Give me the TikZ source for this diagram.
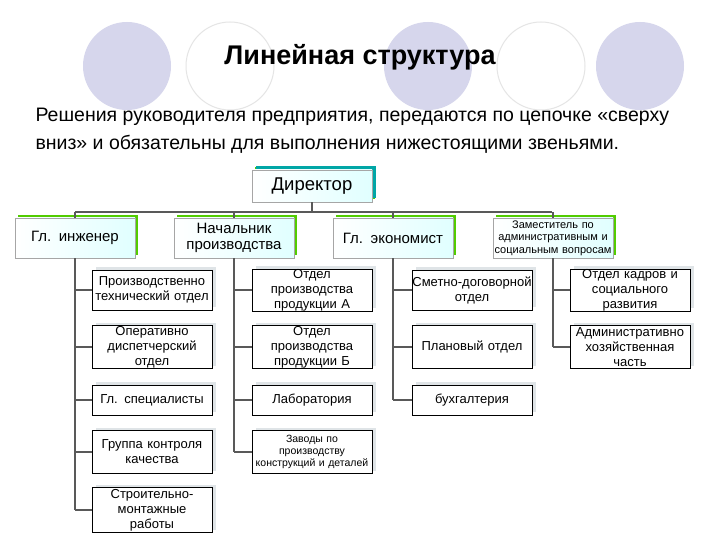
\documentclass[tikz,border=0pt]{standalone}
\usepackage{fontspec}
\setmainfont{Liberation Sans}
\definecolor{lav}{RGB}{214,214,236}
\begin{document}
\begin{tikzpicture}[x=1pt,y=-1pt,
  bus/.style={draw=gray!70!black,line width=1.6pt},
  lvl/.style={draw=gray!70,fill=white,inner sep=0pt,align=center,font=\fontsize{15}{16}\selectfont,minimum height=40pt,text width=120pt,
    path picture={\shade[left color=white,right color=cyan!12] (path picture bounding box.south west) rectangle (path picture bounding box.north east);},
    preaction={fill=green!60!yellow!80!black,transform canvas={xshift=3pt,yshift=3pt}}},
  kid/.style={draw=black,fill=white,inner sep=0pt,align=center,font=\fontsize{13}{15}\selectfont,text width=120pt,
    preaction={fill=cyan!15!gray!25,transform canvas={xshift=4pt,yshift=3pt}}}]
\useasboundingbox (0,0) rectangle (720,540);
\fill[white] (0,0) rectangle (720,540);
% background circles
\fill[lav] (127,66) circle (44);
\draw[gray!20,line width=1pt] (230,66) circle (44);
\fill[lav] (428,66) circle (44);
\draw[gray!20,line width=1pt] (541,66) circle (44);
\fill[lav] (640,66) circle (44);
\node (title) at (360,57) {\fontsize{27}{30}\selectfont\bfseries Линейная структура};
\node[anchor=west,align=left,font=\fontsize{19.5}{28}\selectfont] (sub) at (32,131) {Решения руководителя предприятия, передаются по цепочке «сверху\\вниз» и обязательны для выполнения нижестоящими звеньями.};
% top level
\node[lvl,text width=120pt,minimum height=32pt,font=\fontsize{18.5}{20}\selectfont,
  preaction={fill=teal!70!cyan,transform canvas={xshift=4pt,yshift=4pt}}] (dir) at (312,186) {Директор};
\node[lvl] (eng) at (75,238) {Гл. инженер};
\node[lvl] (nach) at (234,238) {Начальник\\производства};
\node[lvl] (econ) at (393,238) {Гл. экономист};
\node[lvl,font=\fontsize{11}{12.5}\selectfont] (zam) at (553,238) {Заместитель по\\административным и\\социальным вопросам};
\coordinate (bl) at (75,212); \coordinate (br) at (552,212); \coordinate (bd) at (312,212);
% children
\foreach \n/\x/\y/\h/\t in {
 a1/152/290/40/{Производственно\\технический отдел},
 a2/152/347/43/{Оперативно\\диспетчерский\\отдел},
 a3/152/400/30/{Гл. специалисты},
 a4/152/452/43/{Группа контроля\\качества},
 a5/152/510/45/{Строительно-\\монтажные\\работы},
 b1/312/290/40/{Отдел\\производства\\продукции А},
 b2/312/347/43/{Отдел\\производства\\продукции Б},
 b3/312/400/30/{Лаборатория},
 c1/472/290/40/{Сметно-договорной\\отдел},
 c2/472/347/43/{Плановый отдел},
 c3/472/400/30/{бухгалтерия},
 d1/630/290/40/{Отдел кадров и\\социального\\развития},
 d2/630/347/43/{Административно\\хозяйственная\\часть}}
 {\node[kid,minimum height=\h pt] (\n) at (\x,\y) {\t};}
\node[kid,minimum height=43pt,font=\fontsize{10.5}{12}\selectfont] (b4) at (312,452) {Заводы по\\производству\\конструкций и деталей};
% connectors
\draw[bus] (dir.south) -- (bd);
\draw[bus] (bl) -- (br);
\foreach \t in {eng,nach,econ,zam} \draw[bus] (\t.north |- bl) -- (\t.north);
\draw[bus] (eng.south) -- (eng.south |- a5);
\draw[bus] (nach.south) -- (nach.south |- b4);
\draw[bus] (econ.south) -- (econ.south |- c3);
\draw[bus] (zam.south) -- (zam.south |- d2);
\foreach \k in {a1,a2,a3,a4,a5} \draw[bus] (eng.south |- \k) -- (\k.west);
\foreach \k in {b1,b2,b3,b4} \draw[bus] (nach.south |- \k) -- (\k.west);
\foreach \k in {c1,c2,c3} \draw[bus] (econ.south |- \k) -- (\k.west);
\foreach \k in {d1,d2} \draw[bus] (zam.south |- \k) -- (\k.west);
\end{tikzpicture}
\end{document}
